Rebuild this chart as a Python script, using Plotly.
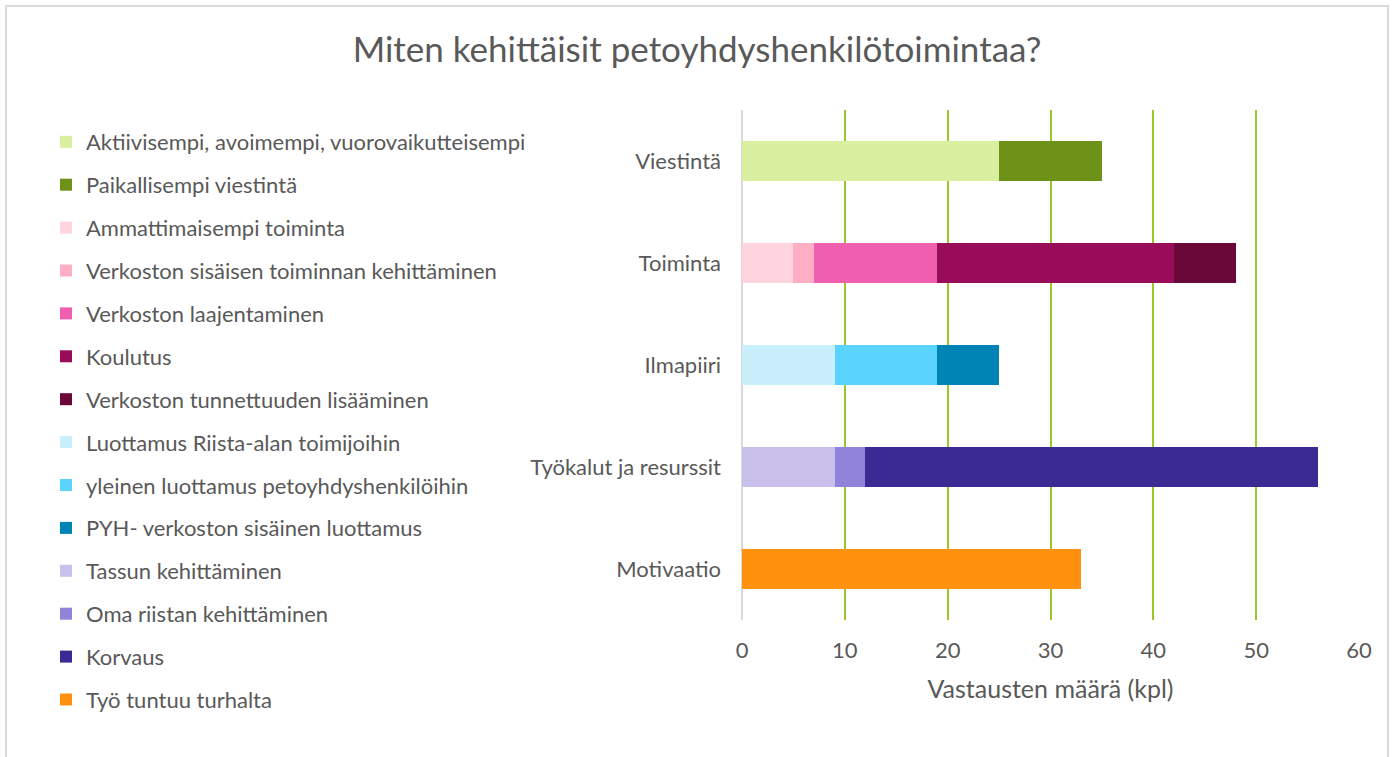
import plotly.graph_objects as go

categories = ["Viestintä", "Toiminta", "Ilmapiiri", "Työkalut ja resurssit", "Motivaatio"]

series_names = [
    "Aktiivisempi, avoimempi, vuorovaikutteisempi",
    "Paikallisempi viestintä",
    "Ammattimaisempi toiminta",
    "Verkoston sisäisen toiminnan kehittäminen",
    "Verkoston laajentaminen",
    "Koulutus",
    "Verkoston tunnettuuden lisääminen",
    "Luottamus Riista-alan toimijoihin",
    "yleinen luottamus petoyhdyshenkilöihin",
    "PYH- verkoston sisäinen luottamus",
    "Tassun kehittäminen",
    "Oma riistan kehittäminen",
    "Korvaus",
    "Työ tuntuu turhalta",
]

# category each series belongs to, and its value
series_category = [
    "Viestintä", "Viestintä",
    "Toiminta", "Toiminta", "Toiminta", "Toiminta", "Toiminta",
    "Ilmapiiri", "Ilmapiiri", "Ilmapiiri",
    "Työkalut ja resurssit", "Työkalut ja resurssit", "Työkalut ja resurssit",
    "Motivaatio",
]
series_values = [25, 10, 5, 2, 12, 23, 6, 9, 10, 6, 9, 3, 44, 33]

series_colors = [
    "#D9EE9F", "#6E9218",
    "#FFD4DF", "#FFAFC5", "#F05FAF", "#990C5A", "#690839",
    "#C9EFFC", "#5BD3FF", "#0083B5",
    "#C8C0EA", "#9182DA", "#3C2A94",
    "#FF910E",
]

x_ticks = [0, 10, 20, 30, 40, 50, 60]

TXT = "#595959"
FONT = "Lato, 'Open Sans', sans-serif"

fig = go.Figure()
for name, cat, val, col in zip(series_names, series_category, series_values, series_colors):
    fig.add_trace(go.Bar(
        y=[cat], x=[val], name=name, orientation="h",
        marker=dict(color=col, line=dict(width=0)),
        legendgroup=name,
    ))

W, H = 1394, 757
L, R, T, B = 742, 35, 110, 137
PW, PH = W - L - R, H - T - B

fig.update_layout(
    width=W, height=H,
    barmode="stack", bargap=0.6,
    plot_bgcolor="white", paper_bgcolor="white",
    margin=dict(l=L, r=R, t=T, b=B, autoexpand=False),
    font=dict(family=FONT, color=TXT, size=22),
    title=dict(text="Miten kehittäisit petoyhdyshenkilötoimintaa?",
               x=0.5, xref="container", xanchor="center",
               y=1 - 50 / H, yref="container", yanchor="middle",
               font=dict(size=35, color=TXT, family=FONT)),
    xaxis=dict(range=[0, 60], tickvals=x_ticks, showgrid=True, gridcolor="#9AC729",
               gridwidth=2, zeroline=True, zerolinecolor="#D9D9D9", zerolinewidth=2,
               showline=False, ticks="", tickfont=dict(size=22, color=TXT),
               ticklabelstandoff=15, automargin=False,
               title=dict(text="Vastausten määrä (kpl)", font=dict(size=25, color=TXT), standoff=18)),
    yaxis=dict(categoryorder="array", categoryarray=categories, autorange="reversed",
               showgrid=False, showline=False, ticks="", ticklabelstandoff=20,
               automargin=False, tickfont=dict(size=22, color=TXT)),
    legend=dict(xref="container", yref="container", x=46 / W, y=1 - 121 / H,
                xanchor="left", yanchor="top", traceorder="grouped", maxheight=0.95,
                tracegroupgap=11.3, font=dict(size=22, color=TXT), bgcolor="rgba(0,0,0,0)"),
    shapes=[dict(type="rect", xref="paper", yref="paper",
                 x0=(6 - L) / PW, x1=(1388 - L) / PW,
                 y0=(H - B - 780) / PH, y1=(H - B - 6) / PH,
                 line=dict(color="#D9D9D9", width=2), fillcolor="rgba(0,0,0,0)", layer="below")],
)

fig.write_html("out.html", config={"displayModeBar": False},
               post_script="document.body.style.margin='0';document.body.style.overflow='hidden';")
